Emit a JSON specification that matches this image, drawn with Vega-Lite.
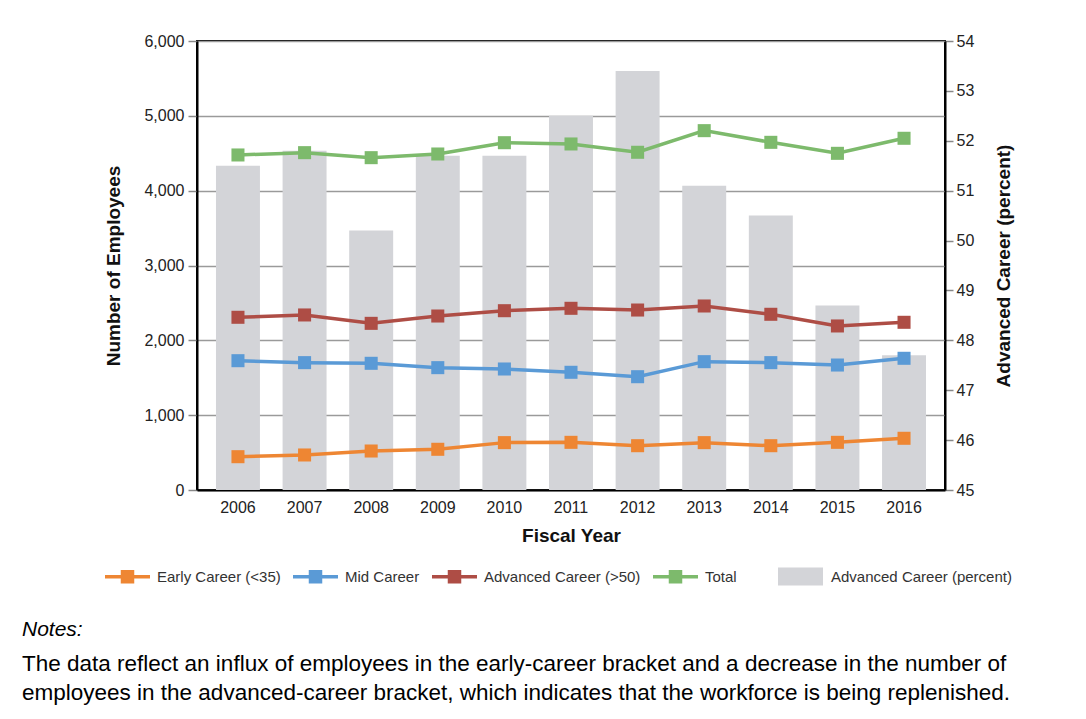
{
  "$schema": "https://vega.github.io/schema/vega-lite/v6.json",
  "autosize": {"type": "none"},
  "width": 748,
  "height": 449,
  "padding": {"left": 197, "top": 41, "right": 141, "bottom": 229},
  "background": "white",
  "datasets": {
    "counts": [
      {"year": "2006", "series": "Early Career (<35)", "count": 445},
      {"year": "2007", "series": "Early Career (<35)", "count": 468},
      {"year": "2008", "series": "Early Career (<35)", "count": 521},
      {"year": "2009", "series": "Early Career (<35)", "count": 544},
      {"year": "2010", "series": "Early Career (<35)", "count": 633},
      {"year": "2011", "series": "Early Career (<35)", "count": 637},
      {"year": "2012", "series": "Early Career (<35)", "count": 592},
      {"year": "2013", "series": "Early Career (<35)", "count": 633},
      {"year": "2014", "series": "Early Career (<35)", "count": 592},
      {"year": "2015", "series": "Early Career (<35)", "count": 637},
      {"year": "2016", "series": "Early Career (<35)", "count": 691},
      {"year": "2006", "series": "Mid Career", "count": 1728},
      {"year": "2007", "series": "Mid Career", "count": 1702},
      {"year": "2008", "series": "Mid Career", "count": 1693},
      {"year": "2009", "series": "Mid Career", "count": 1635},
      {"year": "2010", "series": "Mid Career", "count": 1617},
      {"year": "2011", "series": "Mid Career", "count": 1573},
      {"year": "2012", "series": "Mid Career", "count": 1514},
      {"year": "2013", "series": "Mid Career", "count": 1715},
      {"year": "2014", "series": "Mid Career", "count": 1702},
      {"year": "2015", "series": "Mid Career", "count": 1670},
      {"year": "2016", "series": "Mid Career", "count": 1760},
      {"year": "2006", "series": "Advanced Career (>50)", "count": 2308},
      {"year": "2007", "series": "Advanced Career (>50)", "count": 2339},
      {"year": "2008", "series": "Advanced Career (>50)", "count": 2227},
      {"year": "2009", "series": "Advanced Career (>50)", "count": 2325},
      {"year": "2010", "series": "Advanced Career (>50)", "count": 2396},
      {"year": "2011", "series": "Advanced Career (>50)", "count": 2428},
      {"year": "2012", "series": "Advanced Career (>50)", "count": 2405},
      {"year": "2013", "series": "Advanced Career (>50)", "count": 2459},
      {"year": "2014", "series": "Advanced Career (>50)", "count": 2348},
      {"year": "2015", "series": "Advanced Career (>50)", "count": 2192},
      {"year": "2016", "series": "Advanced Career (>50)", "count": 2241},
      {"year": "2006", "series": "Total", "count": 4477},
      {"year": "2007", "series": "Total", "count": 4508},
      {"year": "2008", "series": "Total", "count": 4441},
      {"year": "2009", "series": "Total", "count": 4490},
      {"year": "2010", "series": "Total", "count": 4641},
      {"year": "2011", "series": "Total", "count": 4624},
      {"year": "2012", "series": "Total", "count": 4513},
      {"year": "2013", "series": "Total", "count": 4802},
      {"year": "2014", "series": "Total", "count": 4646},
      {"year": "2015", "series": "Total", "count": 4499},
      {"year": "2016", "series": "Total", "count": 4700}
    ],
    "pct": [
      {"year": "2006", "percent": 51.5},
      {"year": "2007", "percent": 51.8},
      {"year": "2008", "percent": 50.2},
      {"year": "2009", "percent": 51.7},
      {"year": "2010", "percent": 51.7},
      {"year": "2011", "percent": 52.5},
      {"year": "2012", "percent": 53.4},
      {"year": "2013", "percent": 51.1},
      {"year": "2014", "percent": 50.5},
      {"year": "2015", "percent": 48.7},
      {"year": "2016", "percent": 47.7}
    ]
  },
  "title": {
    "text": "Notes:",
    "subtitle": [
      "The data reflect an influx of employees in the early-career bracket and a decrease in the number of",
      "employees in the advanced-career bracket, which indicates that the workforce is being replenished."
    ],
    "orient": "bottom",
    "anchor": "start",
    "frame": "group",
    "dx": -175,
    "offset": 33,
    "font": "Liberation Sans",
    "fontStyle": "italic",
    "fontWeight": "normal",
    "fontSize": 21,
    "color": "#000000",
    "subtitleFont": "Liberation Sans",
    "subtitleFontSize": 22.5,
    "subtitleColor": "#000000",
    "subtitleLineHeight": 29,
    "subtitlePadding": 13
  },
  "config": {
    "font": "Liberation Sans",
    "view": {"stroke": "#000000", "strokeWidth": 2},
    "axis": {
      "labelFont": "Liberation Sans",
      "labelFontSize": 16,
      "labelColor": "#222222",
      "titleFont": "Liberation Sans",
      "titleFontWeight": "bold",
      "titleFontSize": 19,
      "titleColor": "#111111",
      "domainColor": "#000000",
      "domainWidth": 2,
      "tickColor": "#888888",
      "tickWidth": 1.5
    },
    "legend": {
      "labelFont": "Liberation Sans",
      "labelFontSize": 15,
      "labelColor": "#333333",
      "labelLimit": 400
    }
  },
  "encoding": {
    "x": {
      "field": "year",
      "type": "ordinal",
      "scale": {"paddingInner": 0.34, "paddingOuter": 0.285},
      "axis": {
        "title": "Fiscal Year",
        "titlePadding": 11,
        "labelAngle": 0,
        "labelPadding": 9,
        "ticks": false
      }
    }
  },
  "layer": [
    {
      "data": {"name": "pct"},
      "mark": {"type": "bar", "color": "#D3D4D8"},
      "encoding": {
        "y": {
          "field": "percent",
          "type": "quantitative",
          "scale": {"domain": [45, 54], "zero": false, "nice": false},
          "axis": {
            "orient": "right",
            "title": "Advanced Career (percent)",
            "titleAngle": 270,
            "titlePadding": 40,
            "values": [45, 46, 47, 48, 49, 50, 51, 52, 53, 54],
            "grid": false,
            "tickSize": 8,
            "labelPadding": 3
          }
        },
        "y2": {"datum": 45},
        "fill": {
          "datum": "Advanced Career (percent)",
          "type": "nominal",
          "scale": {"range": ["#D3D4D8"]},
          "legend": {
            "title": null,
            "orient": "none",
            "legendX": 581,
            "legendY": 513,
            "symbolType": "M-1,-0.4H1V0.4H-1Z",
            "symbolSize": 2025,
            "symbolStrokeWidth": 0,
            "labelOffset": 8
          }
        }
      }
    },
    {
      "data": {"name": "counts"},
      "layer": [
        {
          "mark": {"type": "line", "strokeWidth": 3.5},
          "encoding": {
            "y": {
              "field": "count",
              "type": "quantitative",
              "scale": {"domain": [0, 6000], "nice": false},
              "axis": {
                "orient": "left",
                "title": "Number of Employees",
                "titlePadding": 20,
                "values": [0, 1000, 2000, 3000, 4000, 5000, 6000],
                "format": ",d",
                "grid": true,
                "gridColor": "#9A9A9A",
                "gridWidth": 1.5,
                "tickSize": 9,
                "labelPadding": 4
              }
            },
            "color": {
              "field": "series",
              "type": "nominal",
              "scale": {
                "domain": ["Early Career (<35)", "Mid Career", "Advanced Career (>50)", "Total"],
                "range": ["#EE8633", "#5A9AD6", "#AE4D45", "#7DBA6C"]
              },
              "legend": {
                "title": null,
                "orient": "none",
                "direction": "horizontal",
                "legendX": -92,
                "legendY": 513,
                "symbolType": "M-1,-0.08H1V0.08H-1Z M-0.3,-0.3H0.3V0.3H-0.3Z",
                "symbolSize": 2025,
                "symbolStrokeWidth": 0,
                "labelOffset": 7,
                "columnPadding": 12,
                "encode": {
                  "symbols": {
                    "update": {
                      "fill": {"scale": "color", "field": "value"},
                      "fillOpacity": {"value": 1},
                      "opacity": {"value": 1}
                    }
                  }
                }
              }
            }
          }
        },
        {
          "mark": {"type": "point", "shape": "square", "filled": true, "size": 170, "opacity": 1},
          "encoding": {
            "y": {"field": "count", "type": "quantitative"},
            "color": {"field": "series", "type": "nominal"}
          }
        }
      ]
    }
  ],
  "resolve": {"scale": {"y": "independent"}}
}
